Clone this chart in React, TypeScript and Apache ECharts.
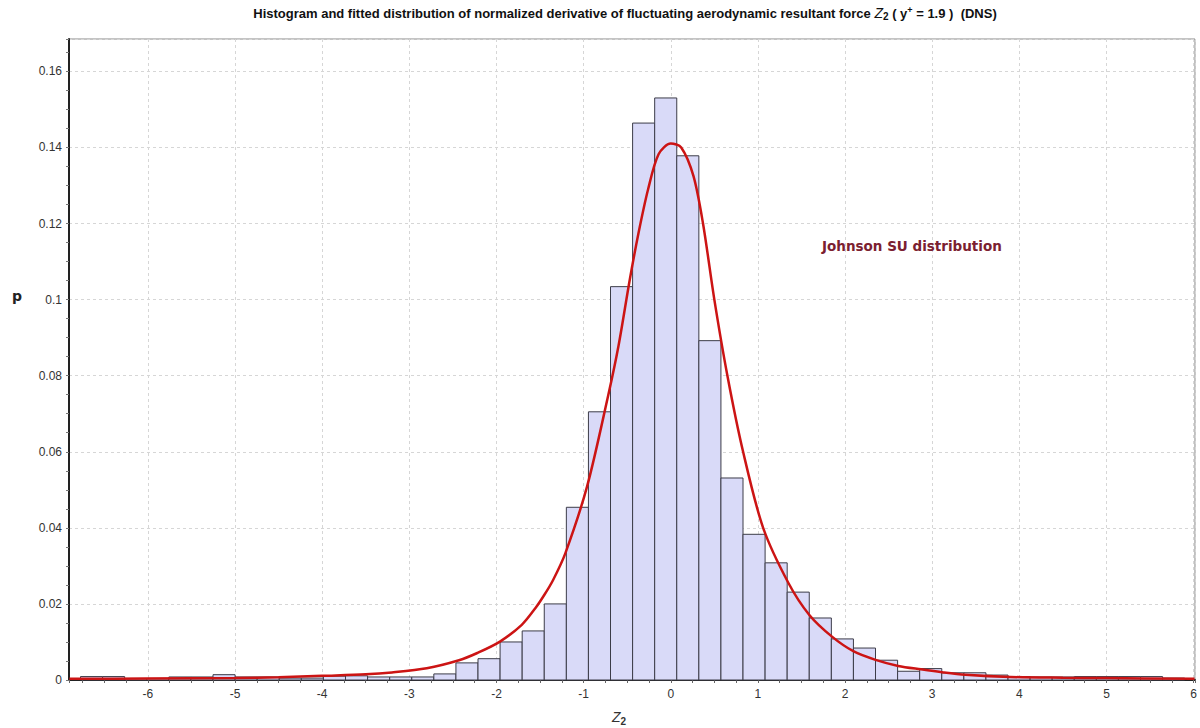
import React, { useEffect, useRef } from 'react';
import * as echarts from 'echarts';

// Histogram bins (regular width), heights
const binStart = -6.773;
const binWidth = 0.2534;
const binHeights = [
  0.0009, 0.0009, 0.0004, 0.0004, 0.0008, 0.0008, 0.0014, 0.0008, 0.0008, 0.0005,
  0.0005, 0.001, 0.0011, 0.0008, 0.0008, 0.0008, 0.0016, 0.0045, 0.0056, 0.01,
  0.0129, 0.02, 0.0454, 0.0705, 0.1034, 0.1464, 0.153, 0.1378, 0.0892, 0.0531,
  0.0383, 0.0308, 0.0231, 0.0163, 0.0108, 0.0084, 0.0052, 0.0023, 0.003, 0.0019,
  0.0019, 0.0013, 0.0009, 0.0008, 0.0008, 0.0009, 0.0009, 0.0009, 0.0009, 0.0005,
];

// Fitted Johnson SU curve
const curveX = [
  -6.9, -6, -5, -4.5, -4, -3.5, -3.2, -2.8, -2.43, -2.22, -1.96, -1.71, -1.55, -1.45,
  -1.35, -1.21, -0.96, -0.72, -0.6, -0.47, -0.37, -0.26, -0.14, 0, 0.12, 0.26, 0.37,
  0.5, 0.65, 0.83, 1.06, 1.35, 1.59, 1.85, 2.1, 2.35, 2.61, 2.87,
  3.13, 3.38, 3.9, 4.5, 5, 6.01,
];
const curveY = [
  0.0003, 0.0004, 0.0005, 0.0007, 0.0011, 0.0015, 0.002, 0.0031, 0.0052, 0.0071, 0.0101,
  0.0145, 0.019, 0.0224, 0.0263, 0.0333, 0.0509, 0.0746, 0.0878, 0.1053, 0.1175, 0.129,
  0.1382, 0.141, 0.14, 0.1325, 0.12, 0.1, 0.08, 0.06, 0.04,
  0.0255, 0.0171, 0.0114, 0.0075, 0.0053, 0.0037, 0.0028, 0.002, 0.0014,
  0.0008, 0.0006, 0.0005, 0.0003,
];

const xMin = -6.905;
const xMax = 6.015;
const yMin = 0;
const yMax = 0.1685;
const xStep = 1;
const xMinorStep = 0.25;
const yStep = 0.02;
const yMinorStep = 0.005;

const titleText =
  'Histogram and fitted distribution of normalized derivative of fluctuating aerodynamic resultant force {z|Z}{s|2}{n| ( y}{p|+}{n| = 1.9 )  (DNS)}';
const curveLabel = 'Johnson SU distribution';
const yName = 'p';

export default function App() {
  const ref = useRef<HTMLDivElement>(null);
  useEffect(() => {
    const chart = echarts.init(ref.current!, null, { renderer: 'svg' });
    const bins = binHeights.map((h, i) => [binStart + i * binWidth, binStart + (i + 1) * binWidth, h]);
    const curve = curveX.map((x, i) => [x, curveY[i]]);
    const font = '"Liberation Sans", Arial, sans-serif';
    const gridLine = { show: true, lineStyle: { color: '#d6d6d6', type: [3, 3] as any, width: 1 } };
    chart.setOption({
      animation: false,
      backgroundColor: '#ffffff',
      grid: {
        left: 69, right: 2, top: 39, bottom: 48,
        show: true, borderColor: '#888', borderWidth: 1, backgroundColor: '#ffffff',
      },
      xAxis: [
        {
          type: 'value', min: xMin, max: xMax, minInterval: xStep, maxInterval: xStep,
          axisLine: { onZero: false, lineStyle: { color: '#222', width: 2 } },
          axisTick: { show: true, length: 3, lineStyle: { color: '#555' } },
          axisLabel: {
            color: '#333', fontSize: 12, fontFamily: font, margin: 8,
            formatter: (v: number) => (Math.abs(v - Math.round(v)) < 1e-9 ? String(Math.round(v)) : ''),
          },
          splitLine: gridLine,
        },
        {
          type: 'value', min: xMin, max: xMax, minInterval: xMinorStep, maxInterval: xMinorStep,
          position: 'bottom',
          axisLine: { show: false, onZero: false },
          axisTick: { show: true, length: 3, lineStyle: { color: '#666' } },
          axisLabel: { show: false },
          splitLine: { show: false },
        },
      ],
      yAxis: [
        {
          type: 'value', min: yMin, max: yMax, minInterval: yStep, maxInterval: yStep,
          axisLine: { show: true, onZero: false, lineStyle: { color: '#222', width: 2 } },
          axisTick: { show: true, length: 3, lineStyle: { color: '#555' } },
          axisLabel: {
            color: '#333', fontSize: 12, fontFamily: font, margin: 7,
            formatter: (v: number) => {
              const r = Math.round(v / yStep);
              return Math.abs(v - r * yStep) < 1e-9 ? String(+(r * yStep).toFixed(2)) : '';
            },
          },
          splitLine: gridLine,
        },
        {
          type: 'value', min: yMin, max: yMax, minInterval: yMinorStep, maxInterval: yMinorStep,
          position: 'left',
          axisLine: { show: false, onZero: false },
          axisTick: { show: true, length: 3, lineStyle: { color: '#777' } },
          axisLabel: { show: false },
          splitLine: { show: false },
        },
      ],
      series: [
        {
          type: 'custom',
          xAxisIndex: 0,
          yAxisIndex: 0,
          data: bins,
          encode: { x: [0, 1], y: 2 },
          renderItem: (_params: any, api: any) => {
            const p0 = api.coord([api.value(0), api.value(2)]);
            const p1 = api.coord([api.value(1), 0]);
            return {
              type: 'rect',
              shape: { x: p0[0], y: p0[1], width: p1[0] - p0[0], height: p1[1] - p0[1] },
              style: { fill: '#d9daf8', stroke: '#3c3c48', lineWidth: 1 },
            };
          },
          z: 2,
        },
        {
          type: 'line',
          xAxisIndex: 0,
          yAxisIndex: 0,
          data: curve,
          symbol: 'none',
          showSymbol: false,
          smooth: 0.3,
          lineStyle: { color: '#cc1414', width: 2.5 },
          z: 5,
        },
      ],
      graphic: [
        {
          type: 'text', x: 625, y: 13, z: 10,
          style: {
            text: titleText,
            font: 'bold 13px "Liberation Sans", Arial, sans-serif',
            fill: '#111', align: 'center', verticalAlign: 'middle',
            rich: {
              z: { fontStyle: 'italic', fontWeight: 'normal', fontSize: 14, fontFamily: font, fill: '#111' },
              s: { fontSize: 10, fontWeight: 'bold', fontFamily: font, padding: [7, 0, 0, 0], fill: '#111' },
              p: { fontSize: 9, fontWeight: 'bold', fontFamily: font, padding: [0, 0, 6, 0], fill: '#111' },
              n: { fontSize: 13, fontWeight: 'bold', fontFamily: font, fill: '#111' },
            },
          },
        },
        {
          type: 'text', x: 17, y: 296, z: 10,
          style: {
            text: yName, font: 'bold 14px "DejaVu Sans", sans-serif', fill: '#222',
            align: 'center', verticalAlign: 'middle',
          },
        },
        {
          type: 'text', x: 619, y: 717, z: 10,
          style: {
            text: '{z|Z}{s|2}', fill: '#333', align: 'center', verticalAlign: 'middle',
            font: 'italic 13px "Liberation Sans", Arial, sans-serif',
            rich: {
              z: { fontStyle: 'italic', fontSize: 14, fontFamily: font, fill: '#333' },
              s: { fontSize: 10, fontWeight: 'bold', fontFamily: font, padding: [8, 0, 0, 0], fill: '#333' },
            },
          },
        },
        {
          type: 'text', x: 822, y: 246, z: 10,
          style: {
            text: curveLabel, font: 'bold 13.5px "DejaVu Sans", sans-serif', fill: '#7b2030',
            align: 'left', verticalAlign: 'middle',
          },
        },
      ],
    });
    return () => chart.dispose();
  }, []);
  return <div ref={ref} style={{ position: 'absolute', left: 0, top: 0, width: 1200, height: 728 }} />;
}
